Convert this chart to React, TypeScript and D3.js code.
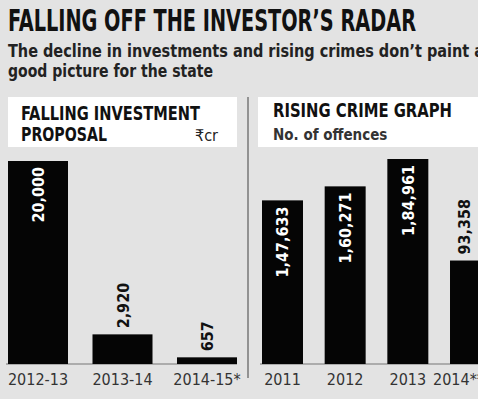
import * as d3 from "d3";

const investYears = ["2012-13", "2013-14", "2014-15*"];
const investValues = [20000, 2920, 657];
const investLabels = ["20,000", "2,920", "657"];

const crimeYears = ["2011", "2012", "2013", "2014**"];
const crimeValues = [147633, 160271, 184961, 93358];
const crimeLabels = ["1,47,633", "1,60,271", "1,84,961", "93,358"];

const W = 478;
const H = 399;
const BASE = 364;
const COND = "'DejaVu Sans Condensed', 'Liberation Sans Narrow', sans-serif";

type PanelProps = {
  cats: string[];
  values: number[];
  labels: string[];
  x0: number;
  x1: number;
  top: number;
  pad: number;
};

const Panel = ({ cats, values, labels, x0, x1, top, pad }: PanelProps) => {
  const x = d3.scaleBand<string>().domain(cats).range([x0, x1]).paddingInner(pad).paddingOuter(0);
  const y = d3.scaleLinear().domain([0, d3.max(values) as number]).range([BASE, top]);
  return (
    <g>
      <line x1={x0 - 2} x2={Math.min(x1, W)} y1={BASE} y2={BASE} stroke="#9a9a9a" strokeWidth={1.5} />
      {cats.map((c, i) => {
        const bx = x(c) as number;
        const bw = x.bandwidth();
        const by = y(values[i]);
        const cx = bx + bw / 2;
        const inside = BASE - by > 130;
        const offEdge = bx + bw > W;
        return (
          <g key={c}>
            <rect x={bx} y={by} width={bw} height={BASE - by} fill="#050505" />
            {inside ? (
              <text
                transform={`translate(${cx + 6},${by + 6}) rotate(-90)`}
                textAnchor="end"
                fill="#fff"
                fontFamily={COND}
                fontWeight="bold"
                fontSize={16}
              >
                {labels[i]}
              </text>
            ) : (
              <text
                transform={`translate(${(offEdge ? bx + 14 : cx) + 6},${by - 6}) rotate(-90)`}
                textAnchor="start"
                fill="#111"
                fontFamily={COND}
                fontWeight="bold"
                fontSize={16}
              >
                {labels[i]}
              </text>
            )}
            <text
              x={offEdge ? bx - 17 : cx}
              y={385}
              textAnchor={offEdge ? "start" : "middle"}
              fill="#333"
              fontFamily={COND}
              fontSize={16}
            >
              {c}
            </text>
          </g>
        );
      })}
    </g>
  );
};

export default function App() {
  return (
    <svg
      width={W}
      height={H}
      style={{ position: "fixed", left: 0, top: 0, display: "block" }}
    >
      <rect x={0} y={0} width={W} height={H} fill="#e3e3e3" />
      <text x={8} y={31} fontFamily={COND} fontWeight="bold" fontSize={30} fill="#111" textLength={408} lengthAdjust="spacingAndGlyphs">
        FALLING OFF THE INVESTOR’S RADAR
      </text>
      <text x={8} y={57} fontFamily={COND} fontWeight="bold" fontSize={17} fill="#222" textLength={476} lengthAdjust="spacingAndGlyphs">
        The decline in investments and rising crimes don’t paint a
      </text>
      <text x={8} y={77} fontFamily={COND} fontWeight="bold" fontSize={17} fill="#222" textLength={205} lengthAdjust="spacingAndGlyphs">
        good picture for the state
      </text>

      <rect x={8} y={97} width={229} height={50} fill="#fff" />
      <text x={21} y={120} fontFamily={COND} fontWeight="bold" fontSize={19} fill="#111" textLength={179} lengthAdjust="spacingAndGlyphs">
        FALLING INVESTMENT
      </text>
      <text x={21} y={141} fontFamily={COND} fontWeight="bold" fontSize={19} fill="#111" textLength={86} lengthAdjust="spacingAndGlyphs">
        PROPOSAL
      </text>
      <text x={195} y={141} fontFamily={COND} fontSize={16} fill="#222">
        ₹cr
      </text>

      <rect x={258} y={97} width={220} height={50} fill="#fff" />
      <text x={273} y={117} fontFamily={COND} fontWeight="bold" fontSize={19} fill="#111" textLength={179} lengthAdjust="spacingAndGlyphs">
        RISING CRIME GRAPH
      </text>
      <text x={273} y={140} fontFamily={COND} fontWeight="bold" fontSize={15} fill="#333">
        No. of offences
      </text>

      <line x1={248} x2={248} y1={97} y2={378} stroke="#777" strokeWidth={1.5} />

      <Panel cats={investYears} values={investValues} labels={investLabels} x0={8} x1={237} top={161} pad={0.29} />
      <Panel cats={crimeYears} values={crimeValues} labels={crimeLabels} x0={262} x1={491} top={159} pad={0.346} />
    </svg>
  );
}
